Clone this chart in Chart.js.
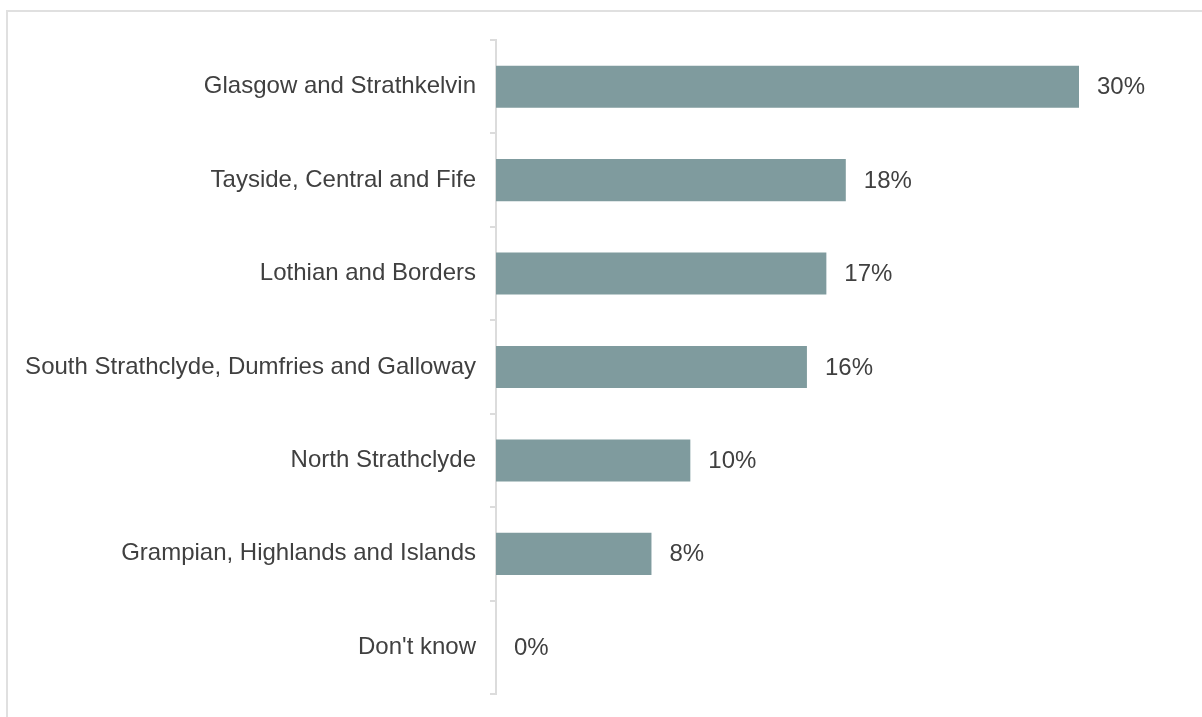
<!DOCTYPE html>
<html>
<head>
<meta charset="utf-8">
<script src="https://cdn.jsdelivr.net/npm/chart.js@4"></script>
<style>
    html, body { margin: 0; padding: 0; background: #fff; overflow: hidden; }
    #wrap { position: relative; width: 1202px; height: 717px; }
    #frame { position: absolute; left: 6px; top: 10px; width: 1300px; height: 800px; border: 2px solid #e0e0e0; }
    canvas { position: absolute; left: 0; top: 0; }
</style>
</head>
<body>
<div id="wrap">
    <div id="frame"></div>
    <canvas id="regionChart" width="1202" height="717"></canvas>
</div>
<script>
// ภูมิภาค และสัดส่วน (%)
const regions = [
    'Glasgow and Strathkelvin',
    'Tayside, Central and Fife',
    'Lothian and Borders',
    'South Strathclyde, Dumfries and Galloway',
    'North Strathclyde',
    'Grampian, Highlands and Islands',
    "Don't know"
];
const shares = [30, 18, 17, 16, 10, 8, 0];

const textColor = '#404040';
const fontSpec = { family: "'Liberation Sans', Arial, sans-serif", size: 24 };

// เขียนค่าเปอร์เซ็นต์ต่อท้ายแท่งกราฟ
const valueLabels = {
    id: 'valueLabels',
    afterDatasetsDraw(chart) {
        const ctx = chart.ctx;
        const meta = chart.getDatasetMeta(0);
        ctx.save();
        ctx.font = `${fontSpec.size}px ${fontSpec.family}`;
        ctx.fillStyle = textColor;
        ctx.textAlign = 'left';
        ctx.textBaseline = 'middle';
        meta.data.forEach((bar, i) => {
            ctx.fillText(shares[i] + '%', bar.x + 18, bar.y + 1);
        });
        ctx.restore();
    }
};

new Chart(document.getElementById('regionChart'), {
    type: 'bar',
    data: {
        labels: regions,
        datasets: [{
            data: shares,
            backgroundColor: '#7f9b9e',
            borderWidth: 0,
            categoryPercentage: 1,
            barPercentage: 0.45
        }]
    },
    options: {
        indexAxis: 'y',
        responsive: false,
        animation: false,
        layout: { padding: { top: 40, bottom: 23, left: 0, right: 123 } },
        plugins: {
            legend: { display: false },
            tooltip: { enabled: false }
        },
        scales: {
            x: {
                display: false,
                min: 0,
                max: 30
            },
            y: {
                // กำหนดความกว้างแกนให้คงที่ และไม่เผื่อขอบบน/ล่างจากป้ายชื่อ
                afterFit(scale) {
                    scale.width = 496;
                    scale.paddingTop = 0;
                    scale.paddingBottom = 0;
                },
                border: { display: true, color: '#dcdcdc', width: 2 },
                grid: {
                    offset: true,
                    drawOnChartArea: false,
                    drawTicks: true,
                    tickLength: 6,
                    lineWidth: 2,
                    color: '#dcdcdc'
                },
                ticks: {
                    color: textColor,
                    font: fontSpec,
                    padding: 14
                }
            }
        }
    },
    plugins: [valueLabels]
});
</script>
</body>
</html>
